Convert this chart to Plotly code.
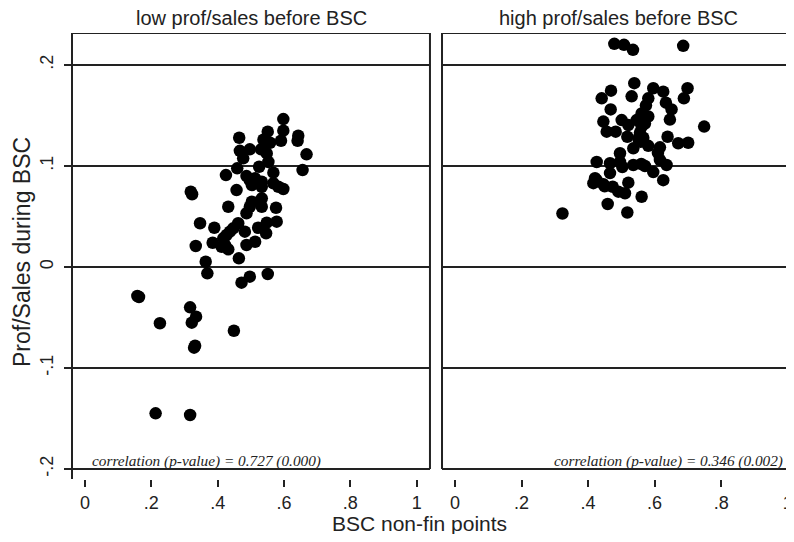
import plotly.graph_objects as go

# ---------------- data ----------------
low_x = [0.598, 0.551, 0.598, 0.465, 0.538, 0.558, 0.591, 0.643, 0.641, 0.497,
         0.467, 0.531, 0.548, 0.477, 0.553, 0.668, 0.525, 0.459, 0.656, 0.425,
         0.487, 0.568, 0.497, 0.513, 0.533, 0.503, 0.533, 0.568, 0.583, 0.598,
         0.457, 0.319, 0.533, 0.503, 0.497, 0.533, 0.432, 0.576, 0.487, 0.347,
         0.390, 0.462, 0.447, 0.548, 0.578, 0.522, 0.482, 0.546, 0.427, 0.437,
         0.417, 0.385, 0.422, 0.432, 0.412, 0.487, 0.513, 0.334, 0.364, 0.464,
         0.369, 0.497, 0.472, 0.551, 0.158, 0.317, 0.335, 0.322, 0.226, 0.449,
         0.329, 0.213, 0.317, 0.323, 0.163, 0.332]
low_y = [0.1465, 0.134, 0.135, 0.128, 0.126, 0.123, 0.125, 0.130, 0.125, 0.1165,
         0.115, 0.1165, 0.1125, 0.1076, 0.104, 0.1116, 0.0993, 0.0977, 0.096, 0.091,
         0.090, 0.0934, 0.086, 0.0878, 0.0845, 0.0812, 0.0795, 0.0829, 0.0795, 0.0772,
         0.0762, 0.0746, 0.068, 0.0647, 0.0597, 0.0597, 0.0597, 0.0587, 0.0532, 0.0433,
         0.0389, 0.0433, 0.0383, 0.0439, 0.0449, 0.0389, 0.035, 0.0334, 0.0317, 0.035,
         0.0284, 0.024, 0.0218, 0.0175, 0.0201, 0.0218, 0.025, 0.0208, 0.0052, 0.0086,
         -0.0063, -0.0096, -0.0155, -0.0069, -0.0287, -0.0399, -0.0492, -0.0551, -0.0557, -0.0631,
         -0.0799, -0.1449, -0.1465, 0.072, -0.0297, -0.078]

high_x = [0.479, 0.508, 0.535, 0.686, 0.539, 0.469, 0.441, 0.531, 0.596, 0.626,
          0.699, 0.688, 0.581, 0.574, 0.634, 0.651, 0.468, 0.561, 0.581, 0.501,
          0.446, 0.546, 0.571, 0.646, 0.521, 0.561, 0.749, 0.456, 0.483, 0.518,
          0.639, 0.671, 0.701, 0.558, 0.536, 0.581, 0.616, 0.496, 0.426, 0.466,
          0.496, 0.536, 0.571, 0.596, 0.616, 0.636, 0.466, 0.421, 0.416, 0.446,
          0.474, 0.491, 0.521, 0.511, 0.626, 0.459, 0.561, 0.518, 0.323, 0.556,
          0.566, 0.551, 0.560, 0.426, 0.610, 0.503, 0.450]
high_y = [0.221, 0.220, 0.215, 0.219, 0.182, 0.1746, 0.167, 0.169, 0.177, 0.1736,
          0.177, 0.167, 0.167, 0.160, 0.1627, 0.156, 0.156, 0.152, 0.149, 0.1455,
          0.144, 0.1455, 0.142, 0.146, 0.1406, 0.139, 0.139, 0.134, 0.134, 0.129,
          0.129, 0.1225, 0.123, 0.124, 0.1175, 0.120, 0.1185, 0.1126, 0.104, 0.1027,
          0.104, 0.101, 0.100, 0.094, 0.106, 0.101, 0.093, 0.088, 0.083, 0.082,
          0.0795, 0.0746, 0.0835, 0.073, 0.086, 0.0624, 0.0696, 0.054, 0.053, 0.133,
          0.128, 0.127, 0.102, 0.086, 0.113, 0.099, 0.080]

panel_titles = ["low prof/sales before BSC", "high prof/sales before BSC"]
notes = ["correlation (p-value) = 0.727 (0.000)", "correlation (p-value) = 0.346 (0.002)"]
x_ticks = [0, 0.2, 0.4, 0.6, 0.8, 1]
x_ticktext = ["0", ".2", ".4", ".6", ".8", "1"]
y_ticks = [-0.2, -0.1, 0, 0.1, 0.2]
y_ticktext = ["-.2", "-.1", "0", ".1", ".2"]

# ---------------- figure ----------------
INK = "#222222"
SANS = "Liberation Sans, Arial, sans-serif"
SERIF = "Liberation Serif, Times New Roman, serif"
YR = [-0.2099, 0.2317]

fig = go.Figure()
fig.add_trace(go.Scatter(x=low_x, y=low_y, mode="markers", xaxis="x", yaxis="y",
                         marker=dict(color="black", size=12.5, line=dict(width=0)),
                         showlegend=False, hoverinfo="skip"))
fig.add_trace(go.Scatter(x=high_x, y=high_y, mode="markers", xaxis="x2", yaxis="y2",
                         marker=dict(color="black", size=12.5, line=dict(width=0)),
                         showlegend=False, hoverinfo="skip"))

xcommon = dict(tickvals=x_ticks, ticktext=x_ticktext, ticks="outside", ticklen=7,
               tickwidth=2, tickcolor=INK, showgrid=False, zeroline=False,
               showline=False, tickfont=dict(family=SANS, size=18, color=INK),
               ticklabeloverflow="allow", fixedrange=True)
# the page body has an 8px default margin, so the figure is 8px smaller
# and its plot-area pixels are shifted by 8px
H = 526
fig.update_layout(
    width=786, height=H,
    margin=dict(l=65, r=0, t=25, b=H - 471),
    paper_bgcolor="white", plot_bgcolor="white",
    xaxis=dict(domain=[0, 0.4951], range=[-0.036, 1.04], anchor="y", **xcommon),
    xaxis2=dict(domain=[0.5118, 1], range=[-0.039, 1.019], anchor="y2", **xcommon),
    yaxis=dict(domain=[0, 1], range=YR, anchor="x", tickvals=y_ticks,
               ticktext=y_ticktext, tickangle=-90, ticks="outside", ticklen=7,
               tickwidth=2, tickcolor=INK, showgrid=True, gridcolor=INK,
               gridwidth=2, zeroline=False, showline=True, linecolor=INK,
               linewidth=2, ticklabelstandoff=4,
               tickfont=dict(family=SANS, size=18, color=INK)),
    yaxis2=dict(domain=[0, 1], range=YR, anchor="x2", tickvals=y_ticks,
                showticklabels=False, ticks="", showgrid=True, gridcolor=INK,
                gridwidth=2, zeroline=False, showline=False),
)

shapes = []
for xr in ["x domain", "x2 domain"]:
    shapes.append(dict(type="line", xref=xr, yref="y", x0=0, x1=1, y0=YR[1], y1=YR[1],
                       line=dict(color=INK, width=2)))
shapes.append(dict(type="line", xref="x domain", yref="y", x0=1, x1=1, y0=-0.2, y1=YR[1],
                   line=dict(color=INK, width=2)))
shapes.append(dict(type="line", xref="x2 domain", yref="y", x0=0, x1=0, y0=-0.2, y1=YR[1],
                   line=dict(color=INK, width=2)))
fig.update_layout(shapes=shapes)

ann = []
ann.append(dict(text=panel_titles[0], xref="x domain", yref="paper", x=0.5, y=1.034,
                showarrow=False, xanchor="center", yanchor="middle",
                font=dict(family=SANS, size=20, color=INK)))
ann.append(dict(text=panel_titles[1], xref="x2 domain", yref="paper", x=0.5, y=1.034,
                showarrow=False, xanchor="center", yanchor="middle",
                font=dict(family=SANS, size=20, color=INK)))
ann.append(dict(text="<i>" + notes[0] + "</i>", xref="x", yref="y", x=0.015, y=-0.192,
                showarrow=False, xanchor="left", yanchor="middle",
                font=dict(family=SERIF, size=15.3, color=INK)))
ann.append(dict(text="<i>" + notes[1] + "</i>", xref="x2", yref="y2", x=0.993, y=-0.192,
                showarrow=False, xanchor="right", yanchor="middle",
                font=dict(family=SERIF, size=15.3, color=INK)))
ann.append(dict(text="BSC non-fin points", xref="paper", yref="paper", x=0.481, y=-0.0987,
                showarrow=False, xanchor="center", yanchor="middle",
                font=dict(family=SANS, size=21, color=INK)))
ann.append(dict(text="Prof/Sales during BSC", xref="paper", yref="paper", x=-0.0707, y=0.509,
                showarrow=False, xanchor="center", yanchor="middle", textangle=-90,
                font=dict(family=SANS, size=23, color=INK)))
fig.update_layout(annotations=ann)

fig.write_html("out.html")
